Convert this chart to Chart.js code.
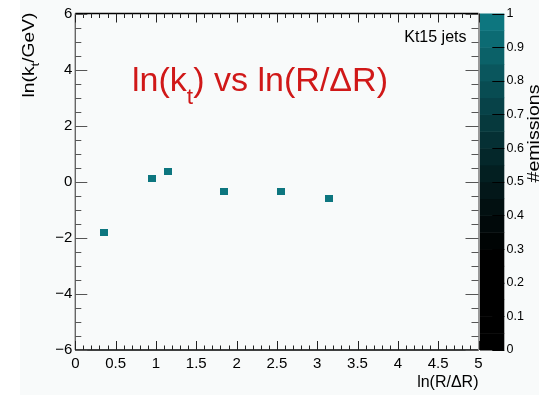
<!DOCTYPE html>
<html><head><meta charset="utf-8">
<script src="https://cdn.jsdelivr.net/npm/chart.js@4/dist/chart.umd.min.js"></script>
<style>html,body{margin:0;padding:0;background:#fff;overflow:hidden}canvas{display:block}</style>
</head><body>
<canvas id="c" width="539" height="395"></canvas>
<script>
// ---- data ----
const lnRoverDR = [0.35, 0.95, 1.15, 1.85, 2.55, 3.15];
const lnKt      = [-1.80, 0.13, 0.38, -0.34, -0.34, -0.58];
const emissions = [1, 1, 1, 1, 1, 1];
const xTickLabels = ['0','0.5','1','1.5','2','2.5','3','3.5','4','4.5','5'];
const yTickLabels = ['\u22126','\u22124','\u22122','0','2','4','6'];
const zTickLabels = ['0','0.1','0.2','0.3','0.4','0.5','0.6','0.7','0.8','0.9','1'];
const titleText = ['ln(k', 't', ') vs ln(R/\u0394R)'];
const yTitleText = ['ln(k', 't', '/GeV)'];
const xTitleText = 'ln(R/\u0394R)';
const zTitleText = '#emissions';
const tagText = 'Kt15 jets';

// ---- style ----
const FONT = "'Liberation Sans', Arial, Helvetica, sans-serif";
const TEAL = [13, 118, 127];
const AREA = {left: 75.3, top: 13.5, right: 478.5, bottom: 350};
function paletteColor(v) {
  let f = Math.max(0, Math.min(1, (v - 0.3) / 0.7));
  f = Math.pow(f, 1.3);
  return 'rgb(' + TEAL.map(c => Math.round(c * f)).join(',') + ')';
}
function markerFor(v) {
  const c = document.createElement('canvas');
  c.width = 8; c.height = 7;
  const g = c.getContext('2d');
  g.fillStyle = paletteColor(v);
  g.fillRect(0, 0, 8, 7);
  return c;
}

function drawRich(ctx, parts, x, y, targetW, color) {
  let W = 0;
  parts.forEach(p => { ctx.font = p.size + 'px ' + FONT; p.w = ctx.measureText(p.t).width; W += p.w; });
  const s = targetW ? targetW / W : 1;
  ctx.save();
  ctx.translate(x, y);
  ctx.scale(s, 1);
  ctx.fillStyle = color;
  ctx.textBaseline = 'alphabetic';
  ctx.textAlign = 'left';
  let cx = 0;
  parts.forEach(p => { ctx.font = p.size + 'px ' + FONT; ctx.fillText(p.t, cx, p.dy || 0); cx += p.w; });
  ctx.restore();
}

const framePlugin = {
  id: 'frame',
  beforeDraw(chart) {
    const ctx = chart.ctx;
    ctx.save();
    ctx.fillStyle = '#ffffff';
    ctx.fillRect(0, 0, 539, 395);
    ctx.fillStyle = '#f8fafa';
    ctx.fillRect(20, 0, 519, 395);
    ctx.restore();
  },
  afterDraw(chart) {
    const ctx = chart.ctx;
    const a = chart.chartArea;
    const xs = chart.scales.x, ys = chart.scales.y, zs = chart.scales.z;
    ctx.save();
    // colorbar
    const cbL = a.right + 1.5, cbR = a.right + 25.8;
    for (let i = 0; i < 20; i++) {
      const lo = i * 0.05, hi = (i + 1) * 0.05;
      const yTop = zs.getPixelForValue(hi), yBot = zs.getPixelForValue(lo);
      ctx.fillStyle = paletteColor(hi);
      ctx.fillRect(cbL, yTop, cbR - cbL, yBot - yTop + 0.5);
    }
    ctx.strokeStyle = '#000'; ctx.lineWidth = 1;
    for (let i = 0; i <= 10; i++) {
      const py = Math.round(zs.getPixelForValue(i / 10)) + 0.5;
      ctx.beginPath(); ctx.moveTo(cbR, py); ctx.lineTo(cbR - 12, py); ctx.stroke();
    }
    // frame lines
    ctx.lineWidth = 1.6; ctx.strokeStyle = '#000';
    ctx.beginPath(); ctx.moveTo(a.left, a.bottom); ctx.lineTo(a.right, a.bottom); ctx.stroke();
    ctx.beginPath(); ctx.moveTo(a.left, a.top); ctx.lineTo(a.right, a.top); ctx.stroke();
    ctx.strokeStyle = '#666'; ctx.lineWidth = 1.4;
    ctx.beginPath(); ctx.moveTo(a.left, a.top); ctx.lineTo(a.left, a.bottom); ctx.stroke();
    ctx.strokeStyle = '#999'; ctx.lineWidth = 2;
    ctx.beginPath(); ctx.moveTo(a.right + 0.5, a.top); ctx.lineTo(a.right + 0.5, a.bottom); ctx.stroke();
    // x ticks
    ctx.lineWidth = 1; ctx.strokeStyle = '#222';
    for (let i = 0; i <= 50; i++) {
      const v = i / 10;
      const px = Math.round(xs.getPixelForValue(v)) + 0.5;
      const len = (i % 5 === 0) ? 9 : 4.5;
      ctx.beginPath(); ctx.moveTo(px, a.bottom); ctx.lineTo(px, a.bottom - len); ctx.stroke();
      ctx.beginPath(); ctx.moveTo(px, a.top); ctx.lineTo(px, a.top + len); ctx.stroke();
    }
    // y ticks
    ctx.strokeStyle = '#555';
    for (let i = 0; i <= 24; i++) {
      const v = -6 + i * 0.5;
      const py = Math.round(ys.getPixelForValue(v)) + 0.5;
      const major = (i % 4 === 0);
      ctx.beginPath(); ctx.moveTo(a.left, py); ctx.lineTo(a.left + (major ? 12 : 6), py); ctx.stroke();
      ctx.beginPath(); ctx.moveTo(a.right, py); ctx.lineTo(a.right - (major ? 13 : 7), py); ctx.stroke();
    }
    ctx.restore();

    // titles
    drawRich(ctx, [{t: titleText[0], size: 33}, {t: titleText[1], size: 22, dy: 13}, {t: titleText[2], size: 33}], 132, 91, 256, '#d01818');
    ctx.save();
    ctx.font = '16px ' + FONT; ctx.fillStyle = '#000'; ctx.textAlign = 'right'; ctx.textBaseline = 'alphabetic';
    ctx.fillText(tagText, 466.5, 41.5);
    ctx.restore();
    // y title
    ctx.save();
    ctx.translate(34, 97.5);
    ctx.rotate(-Math.PI / 2);
    drawRich(ctx, [{t: yTitleText[0], size: 16}, {t: yTitleText[1], size: 11, dy: 5}, {t: yTitleText[2], size: 16}], 0, 0, 85, '#000');
    ctx.restore();
    // z title
    ctx.save();
    ctx.translate(538.5, 182.5);
    ctx.rotate(-Math.PI / 2);
    drawRich(ctx, [{t: zTitleText, size: 16}], 0, 0, 98, '#000');
    ctx.restore();
  }
};

const ctx = document.getElementById('c').getContext('2d');
const chart = new Chart(ctx, {
  type: 'scatter',
  data: {
    datasets: [{
      data: lnRoverDR.map((x, i) => ({x: x, y: lnKt[i]})),
      pointStyle: emissions.map(v => markerFor(v)),
      pointRadius: 4,
      borderWidth: 0,
      backgroundColor: emissions.map(v => paletteColor(v))
    }]
  },
  options: {
    responsive: false, animation: false, devicePixelRatio: 1,
    layout: {autoPadding: false, padding: {left: 0, top: AREA.top, right: 0, bottom: 0}},
    plugins: {legend: {display: false}, tooltip: {enabled: false}, title: {display: false}},
    scales: {
      x: {
        type: 'linear', position: 'bottom', min: 0, max: 5,
        grid: {display: false, drawTicks: false}, border: {display: false},
        ticks: {stepSize: 0.5, autoSkip: false, maxRotation: 0, padding: 5, color: '#000',
          font: {family: FONT, size: 15},
          callback: v => xTickLabels[Math.round(v / 0.5)]},
        title: {display: true, text: xTitleText, align: 'end', color: '#000',
          font: {family: FONT, size: 16}, padding: {top: 0, bottom: 2.4}},
        afterFit: s => { s.height = 395 - AREA.bottom; }
      },
      y: {
        type: 'linear', position: 'left', min: -6, max: 6,
        grid: {display: false, drawTicks: false}, border: {display: false},
        ticks: {stepSize: 2, autoSkip: false, padding: 3, color: '#000',
          font: {family: FONT, size: 15},
          callback: v => yTickLabels[Math.round((v + 6) / 2)]},
        afterFit: s => { s.width = AREA.left; }
      },
      z: {
        type: 'linear', position: 'right', min: 0, max: 1,
        grid: {display: true, drawOnChartArea: false, drawTicks: true, tickLength: 26, color: 'rgba(0,0,0,0)'},
        border: {display: false},
        ticks: {stepSize: 0.1, autoSkip: false, padding: 2, color: '#000',
          font: {family: FONT, size: 12.5},
          callback: v => zTickLabels[Math.round(v * 10)]},
        afterFit: s => { s.width = 539 - AREA.right; }
      }
    }
  },
  plugins: [framePlugin]
});
</script>
</body></html>
